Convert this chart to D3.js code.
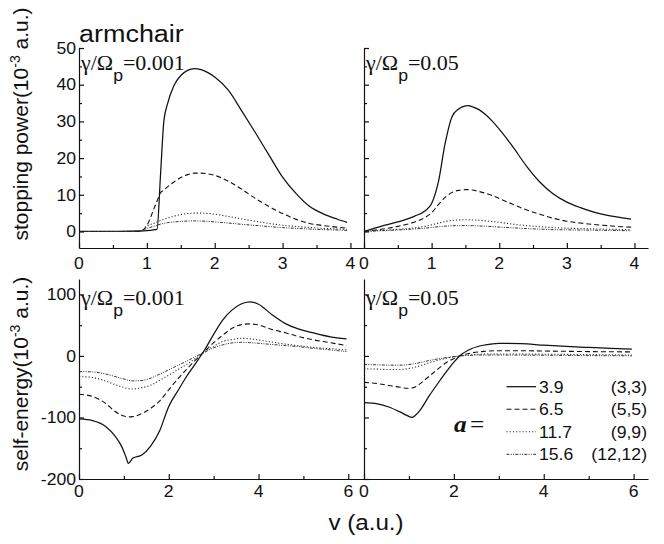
<!DOCTYPE html>
<html><head><meta charset="utf-8">
<script src="https://cdn.jsdelivr.net/npm/d3@7"></script>
<style>body{margin:0;background:#fff}</style>
</head><body>
<svg id="c" width="664" height="544"></svg>
<script>
// ---------------- DATA ----------------
const seriesNames = ["3.9", "6.5", "11.7", "15.6"];
const seriesTubes = ["(3,3)", "(5,5)", "(9,9)", "(12,12)"];
const dampingLabels = ["0.001", "0.05"];

// Stopping power, gamma/Omega_p = 0.001
const vTL = [0,0.5,0.9,1.0,1.1,1.15,1.2,1.25,1.3,1.4,1.5,1.6,1.7,1.8,1.9,2.0,2.2,2.4,2.6,2.8,3.0,3.2,3.4,3.6,3.8,3.95];
const spA_33   = [0,0.05,0.15,0.25,0.45,0.6,15,30,34.5,39.8,42.5,43.9,44.4,44.1,43.3,42.1,38.5,32.8,26.9,20.8,14.8,10.3,6.8,4.8,3.4,2.5];
const spA_55   = [0,0,0,1.6,6,8.3,10.5,11.3,12.1,13.5,14.7,15.5,15.9,15.9,15.7,15.3,13.7,11.5,9,6.8,4.9,3.3,2.2,1.6,1.2,0.9];
const spA_99   = [0,0,0.1,1.5,2.2,2.6,3.0,3.3,3.6,4.2,4.6,4.9,5.0,5.0,4.9,4.7,4.1,3.4,2.8,2.2,1.7,1.35,1.1,0.85,0.7,0.6];
const spA_1212 = [0,0,0.05,0.8,1.4,1.7,2.0,2.2,2.4,2.6,2.75,2.85,2.9,2.85,2.75,2.6,2.3,1.95,1.65,1.35,1.05,0.85,0.65,0.5,0.4,0.3];

// Stopping power, gamma/Omega_p = 0.05
const vTR = [0,0.25,0.5,0.75,0.9,1.0,1.1,1.2,1.3,1.4,1.5,1.55,1.6,1.7,1.8,1.9,2.0,2.1,2.2,2.4,2.6,2.8,3.0,3.2,3.4,3.6,3.8,3.95];
const spB_33   = [0,1.4,2.6,4.2,5.6,7.6,13.5,24,31.2,33.4,34.2,34.3,34.0,33.2,31.8,30.0,27.9,25.6,23.1,17.9,13.5,10.2,8.0,6.5,5.3,4.4,3.8,3.4];
const spB_55   = [0,0.6,1.4,2.6,3.8,5.1,7.3,9.3,10.6,11.2,11.4,11.4,11.3,10.9,10.4,9.75,9,8.2,7.4,5.9,4.7,3.6,2.8,2.3,1.9,1.6,1.3,1.2];
const spB_99   = [0,0.3,0.6,1.0,1.4,1.8,2.3,2.7,3.0,3.15,3.2,3.2,3.15,3.05,2.9,2.7,2.5,2.25,2.0,1.6,1.3,1.05,0.9,0.8,0.7,0.6,0.55,0.5];
const spB_1212 = [0,0.2,0.4,0.7,0.9,1.1,1.3,1.45,1.55,1.6,1.6,1.6,1.6,1.5,1.45,1.33,1.2,1.1,1.0,0.8,0.65,0.5,0.45,0.4,0.35,0.3,0.25,0.2];

// Self-energy, gamma/Omega_p = 0.001
const vBL = [0,0.3,0.6,0.8,0.95,1.05,1.1,1.2,1.4,1.6,1.8,2.0,2.2,2.4,2.6,2.8,3.0,3.2,3.4,3.6,3.8,4.0,4.3,4.6,4.9,5.2,5.6,5.96];
const seA_33   = [-102.4,-105,-115,-130,-147,-165,-174.5,-166,-161,-146,-121,-82,-57,-33,-12,10,35,58,74,84,88,84,67,52.5,43.6,37.8,31,27.6];
const seA_55   = [-62.3,-66,-77.5,-90,-96.5,-98.6,-99,-98.6,-93.5,-85,-73,-55,-37.5,-21.5,-6.5,7.5,21.5,33.5,44.5,50.5,52,50.4,43,37.6,31.4,26.5,21.5,16.8];
const seA_99   = [-33.6,-35,-41,-46.5,-50,-52.5,-53.3,-53.7,-51.5,-47.5,-39.5,-31.2,-22.4,-13.7,-3.8,7.5,15.5,23.5,26.5,28.6,27.9,26,22.5,19.2,16.5,14,11.8,9.8];
const seA_1212 = [-25.5,-26,-29.5,-33.4,-36.5,-38.5,-39.5,-40.5,-40,-36,-29.5,-22.5,-15.5,-8.5,-1,6,13.2,18,21,22.1,21.6,20.5,18.6,16.8,15,12.5,9.8,7];

// Self-energy, gamma/Omega_p = 0.05
const vBR = [0,0.3,0.55,0.8,0.95,1.07,1.15,1.25,1.45,1.65,1.85,2.0,2.13,2.4,2.7,3.0,3.5,4.0,4.5,5.0,5.5,5.96];
const seB_33   = [-76,-78,-83,-91,-96.5,-100,-96,-88,-65,-44,-24,-10,0,12,18,20.5,20,17.5,15.5,13.8,12.3,11];
const seB_55   = [-43,-45,-48,-51,-52.5,-52,-50,-45,-33,-21,-10,-4,0,5,7.5,8.5,8.5,8,7.5,7,6.8,6.5];
const seB_99   = [-21,-21.5,-22,-22,-21,-19.5,-18,-16,-11,-7,-3.5,-1.5,0,2,3,3.2,3,2.8,2.5,2.2,1.8,1.5];
const seB_1212 = [-14,-14.5,-15,-15,-14.3,-13.2,-12.3,-10.8,-7.5,-4.8,-2.5,-1,0,1,1.5,1.5,1.3,1.1,0.8,0.5,0.3,0.2];

// Ticks
const spTicks = [0,10,20,30,40,50];
const spMinor = [5,15,25,35,45];
const seTicks = [-200,-100,0,100];
const seMinor = [-150,-50,50];
const vTicksTop = [0,1,2,3,4];
const vMinorTop = [0.5,1.5,2.5,3.5];
const vTicksBot = [0,2,4,6];
const vMinorBot = [1,3,5];

// ---------------- DRAW ----------------
const svg = d3.select("#c");
const SANS = "'Liberation Sans', Arial, Helvetica, sans-serif";
const SERIF = "'Liberation Serif', 'Times New Roman', serif";
const SX = 1.1;
const styles = [
  {dash: null, w: 1.25, c: "#111"},
  {dash: "5,3", w: 1.1, c: "#111"},
  {dash: "1.2,2", w: 1.1, c: "#333"},
  {dash: "3,1.3,1,1.3,1,1.3", w: 1.0, c: "#333"}
];

function txt(g, x, y, s, size, anchor, fam) {
  return g.append("text")
    .attr("transform", `translate(${x},${y}) scale(${SX},1)`)
    .attr("text-anchor", anchor || "start")
    .style("font-family", fam || SANS)
    .style("font-size", size + "px")
    .attr("fill", "#111")
    .text(s);
}

const panels = [
  {x0:79, x1:364, y0:48, y1:248, xd:[0,4.2], yd:[-4.5,50], v:vTL, ys:[spA_33,spA_55,spA_99,spA_1212],
   xt:vTicksTop, xm:vMinorTop, yt:spTicks, ym:spMinor, ylab:true, damp:dampingLabels[0], annY:70, xlabY:269},
  {x0:364, x1:648, y0:48, y1:248, xd:[0,4.2], yd:[-4.5,50], v:vTR, ys:[spB_33,spB_55,spB_99,spB_1212],
   xt:vTicksTop, xm:vMinorTop, yt:spTicks, ym:spMinor, ylab:false, damp:dampingLabels[1], annY:70, xlabY:269},
  {x0:79, x1:364, y0:279, y1:479, xd:[0,6.35], yd:[-200,125], v:vBL, ys:[seA_33,seA_55,seA_99,seA_1212],
   xt:vTicksBot, xm:vMinorBot, yt:seTicks, ym:seMinor, ylab:true, damp:dampingLabels[0], annY:305, xlabY:497},
  {x0:364, x1:648, y0:279, y1:479, xd:[0,6.32], yd:[-200,125], v:vBR, ys:[seB_33,seB_55,seB_99,seB_1212],
   xt:vTicksBot, xm:vMinorBot, yt:seTicks, ym:seMinor, ylab:false, damp:dampingLabels[1], annY:305, xlabY:497}
];

panels.forEach(p => {
  const x = d3.scaleLinear().domain(p.xd).range([p.x0, p.x1]);
  const y = d3.scaleLinear().domain(p.yd).range([p.y1, p.y0]);
  const g = svg.append("g");

  // curves
  const line = d3.line().x(d => x(d[0])).y(d => y(d[1])).curve(d3.curveMonotoneX);
  p.ys.forEach((arr, i) => {
    const st = styles[i];
    g.append("path")
      .datum(p.v.map((v, k) => [v, arr[k]]))
      .attr("d", line)
      .attr("fill", "none")
      .attr("stroke", st.c)
      .attr("stroke-width", st.w)
      .attr("stroke-dasharray", st.dash);
  });

  // axes (ticks inside)
  g.append("g").attr("transform", `translate(0,${p.y1})`)
    .call(d3.axisBottom(x).tickValues(p.xt).tickSizeInner(-5).tickSizeOuter(0).tickFormat(""));
  g.append("g").attr("transform", `translate(0,${p.y1})`)
    .call(d3.axisBottom(x).tickValues(p.xm).tickSizeInner(-3).tickSizeOuter(0).tickFormat(""))
    .select(".domain").remove();
  g.append("g").attr("transform", `translate(${p.x0},0)`)
    .call(d3.axisLeft(y).tickValues(p.yt).tickSizeInner(-5).tickSizeOuter(0).tickFormat(""));
  g.append("g").attr("transform", `translate(${p.x0},0)`)
    .call(d3.axisLeft(y).tickValues(p.ym).tickSizeInner(-3).tickSizeOuter(0).tickFormat(""))
    .select(".domain").remove();
  g.selectAll(".domain, .tick line").attr("stroke", "#111").attr("stroke-width", 1.2);

  // tick labels
  p.xt.forEach(t => txt(g, x(t), p.xlabY, String(t), 16, "middle"));
  if (p.ylab) p.yt.forEach(t => txt(g, p.x0 - 3, y(t) + 5.8, String(t), 16, "end"));

  // damping annotation
  const a = g.append("text")
    .attr("transform", `translate(${p.x0 + 2},${p.annY}) scale(${SX},1)`)
    .attr("fill", "#111");
  a.append("tspan").style("font-family", SERIF).style("font-size", "20px").text("γ/Ω");
  a.append("tspan").style("font-family", SANS).style("font-size", "16px").attr("dy", 11).text("p");
  a.append("tspan").style("font-family", SERIF).style("font-size", "20px").attr("dy", -11).text("=" + p.damp);
});

// title
txt(svg, 79, 42, "armchair", 24.5, "start");

// y labels
function ylabel(cx, cy, main) {
  const t = svg.append("text")
    .attr("transform", `translate(${cx},${cy}) rotate(-90)`)
    .attr("text-anchor", "middle")
    .style("font-family", SANS).style("font-size", "21px").attr("fill", "#111");
  t.append("tspan").text(main + "(10");
  t.append("tspan").attr("dy", -8).style("font-size", "14px").text("-3");
  t.append("tspan").attr("dy", 8).text(" a.u.)");
}
ylabel(28, 124, "stopping power");
ylabel(28, 374, "self-energy");

// x label
txt(svg, 366, 530, "v (a.u.)", 22, "middle");

// legend
const legY = d3.scalePoint().domain(seriesNames).range([386.7, 454.3]);
seriesNames.forEach((nm, i) => {
  const st = styles[i];
  const yy = legY(nm);
  svg.append("line").attr("x1", 506.5).attr("x2", 536).attr("y1", yy).attr("y2", yy)
    .attr("stroke", st.c).attr("stroke-width", st.w).attr("stroke-dasharray", st.dash);
  txt(svg, 539, yy + 5.8, nm, 16, "start");
  txt(svg, 647, yy + 5.8, seriesTubes[i], 16, "end");
});
const at = svg.append("text").attr("transform", `translate(454,432) scale(${SX},1)`).attr("fill", "#111");
at.append("tspan").style("font-family", SERIF).style("font-size", "23px").style("font-weight", "bold").style("font-style", "italic").text("a");
at.append("tspan").style("font-family", SERIF).style("font-size", "23px").attr("dx", 3).text("=");
</script>
</body></html>
